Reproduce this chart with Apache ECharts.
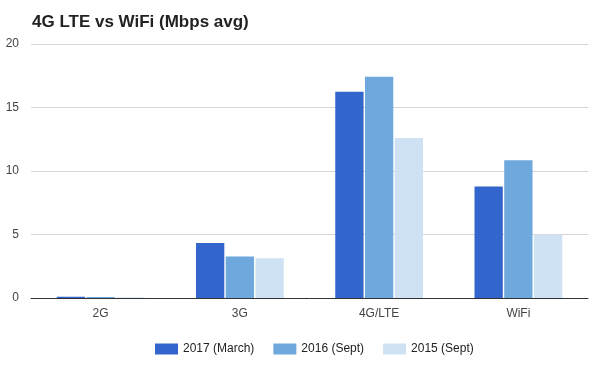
<!DOCTYPE html>
<html><head><meta charset="utf-8">
<script src="https://cdn.jsdelivr.net/npm/echarts@6/dist/echarts.min.js"></script>
<style>html,body{margin:0;padding:0;background:#fff}#c{width:600px;height:370px}</style>
</head><body><div id="c"></div>
<script>
const categories = ['2G', '3G', '4G/LTE', 'WiFi'];
const seriesNames = ['2017 (March)', '2016 (Sept)', '2015 (Sept)'];
const values2017 = [0.1, 4.34, 16.25, 8.77];
const values2016 = [0.08, 3.26, 17.43, 10.85];
const values2015 = [0.05, 3.13, 12.6, 5.0];
const yTicks = [0, 5, 10, 15, 20];
const colors = ['#3366CC', '#6FA8DC', '#CFE2F3'];

const chart = echarts.init(document.getElementById('c'));
const mk = (name, data, i) => ({
  name, type: 'bar', data, barGap: '5%', barCategoryGap: '37%',
  itemStyle: { color: colors[i] }
});
chart.setOption({
  animation: false,
  textStyle: { fontFamily: 'Liberation Sans, Arial, sans-serif' },
  title: {
    text: '4G LTE vs WiFi (Mbps avg)', left: 27, top: 9,
    textStyle: { fontSize: 17, fontWeight: 'bold', color: '#222' }
  },
  legend: {
    left: 150, top: 338, itemWidth: 23, itemHeight: 11, itemGap: 19,
    icon: 'rect',
    textStyle: { fontSize: 12, color: '#222' },
    data: seriesNames
  },
  grid: { left: 31, right: 12, top: 44, bottom: 72, containLabel: false },
  xAxis: {
    type: 'category', data: categories,
    axisLine: { lineStyle: { color: '#333', width: 1 } },
    axisTick: { show: false },
    axisLabel: { color: '#444', fontSize: 12, margin: 10 }
  },
  yAxis: {
    type: 'value', min: yTicks[0], max: yTicks[yTicks.length - 1], interval: 5,
    axisLine: { show: false }, axisTick: { show: false },
    axisLabel: { color: '#444', fontSize: 12, margin: 12 },
    splitLine: { lineStyle: { color: '#d6d6d6' } }
  },
  series: [mk(seriesNames[0], values2017, 0), mk(seriesNames[1], values2016, 1), mk(seriesNames[2], values2015, 2)]
});
</script></body></html>
